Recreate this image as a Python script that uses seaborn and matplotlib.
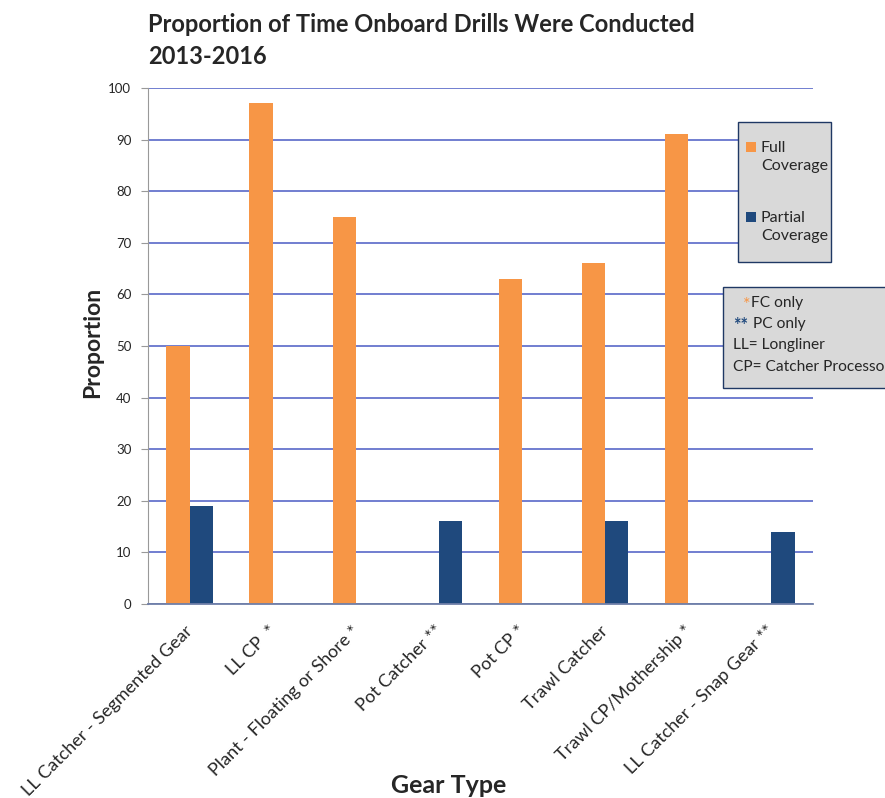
import numpy as np
import pandas as pd
import matplotlib
matplotlib.use("Agg")
import matplotlib.pyplot as plt
from matplotlib.patches import Rectangle
from matplotlib.transforms import ScaledTranslation
import seaborn as sns

GEAR_TYPES = [
    "LL Catcher - Segmented Gear",
    "LL CP  *",
    "Plant - Floating or Shore *",
    "Pot Catcher **",
    "Pot CP *",
    "Trawl Catcher",
    "Trawl CP/Mothership *",
    "LL Catcher - Snap Gear **",
]
FULL_COVERAGE = [50, 97, 75, np.nan, 63, 66, 91, np.nan]
PARTIAL_COVERAGE = [19, np.nan, np.nan, 16, np.nan, 16, np.nan, 14]
SERIES = ["Full\nCoverage", "Partial\nCoverage"]
PALETTE = {SERIES[0]: "#f79646", SERIES[1]: "#1f497d"}

df = pd.DataFrame({
    "gear": GEAR_TYPES * 2,
    "series": [SERIES[0]] * len(GEAR_TYPES) + [SERIES[1]] * len(GEAR_TYPES),
    "value": FULL_COVERAGE + PARTIAL_COVERAGE,
})

sns.set_style("white")
plt.rcParams["font.family"] = ["Lato", "DejaVu Sans"]

W, H = 885, 798
fig = plt.figure(figsize=(W / 100, H / 100), dpi=100)
ax = fig.add_axes([148 / W, 1 - 604 / H, 665 / W, 516 / H])

sns.barplot(
    data=df, x="gear", y="value", hue="series", order=GEAR_TYPES,
    hue_order=SERIES, palette=PALETTE, width=0.56, saturation=1,
    linewidth=0, ax=ax, legend=False,
)

ax.set_ylim(0, 100)
ax.set_xlim(-0.5, len(GEAR_TYPES) - 0.5)
ax.set_yticks(range(0, 101, 10))
ax.yaxis.grid(True, color="#4a5bc4", linewidth=1.1)
ax.set_axisbelow(True)
for s in ["top", "right"]:
    ax.spines[s].set_visible(False)
ax.spines["left"].set_color("#999999")
ax.spines["bottom"].set_color("#6f7fa8")
ax.spines["bottom"].set_linewidth(1.3)
ax.tick_params(axis="y", left=True, length=5, color="#999999", labelsize=9.5, pad=7)
ax.tick_params(axis="x", bottom=False, pad=10)
ax.set_xticks(range(len(GEAR_TYPES)))
ax.set_xticklabels(GEAR_TYPES, rotation=45, ha="right", rotation_mode="anchor", fontsize=13)
shift = ScaledTranslation(-5 / 100, 0, fig.dpi_scale_trans)
for lbl in ax.get_xticklabels():
    lbl.set_transform(lbl.get_transform() + shift)

ax.set_xlabel("Gear Type", fontsize=18, fontweight="bold", va="top")
ax.xaxis.set_label_coords((449 - 148) / 665, -(774 - 604) / 516)
ax.set_ylabel("Proportion", fontsize=16.5, fontweight="bold")
ax.yaxis.set_label_coords((103 - 148) / 665, (604 - 342) / 516)

# coverage legend, drawn as a box with two swatches
fig.add_artist(Rectangle((738 / W, 1 - 262 / H), 93 / W, 140 / H, transform=fig.transFigure,
                         facecolor="#d9d9d9", edgecolor="#1f3864", linewidth=1))
for name, sq_top, txt_y in [(SERIES[0], 142, 157), (SERIES[1], 212, 227)]:
    fig.add_artist(Rectangle((746 / W, 1 - (sq_top + 10) / H), 10 / W, 10 / H,
                             transform=fig.transFigure, facecolor=PALETTE[name], linewidth=0))
    fig.text(761 / W, 1 - txt_y / H, name, fontsize=11.5, va="center", ha="left",
             linespacing=1.35)

fig.text(148 / W, 1 - 13 / H, "Proportion of Time Onboard Drills Were Conducted\n2013-2016",
         fontsize=17, fontweight="bold", va="top", ha="left", linespacing=1.45)

# notes box
fig.add_artist(Rectangle((723 / W, 1 - 388 / H), 200 / W, 101 / H, transform=fig.transFigure,
                         facecolor="#d9d9d9", edgecolor="#1f3864", linewidth=1))
note_size = 11.2
fig.text(743 / W, 1 - 305 / H, "*", color="#f79646", fontsize=13, va="center", ha="left")
fig.text(751 / W, 1 - 303 / H, "FC only", fontsize=note_size, va="center", ha="left")
fig.text(733 / W, 1 - 326 / H, "**", color="#1f497d", fontsize=13, va="center", ha="left",
         fontweight="bold")
fig.text(753 / W, 1 - 324 / H, "PC only", fontsize=note_size, va="center", ha="left")
fig.text(733 / W, 1 - 345 / H, "LL= Longliner", fontsize=note_size, va="center", ha="left")
fig.text(733 / W, 1 - 367 / H, "CP= Catcher Processor", fontsize=note_size, va="center", ha="left")

fig.savefig("out.png", dpi=100)
